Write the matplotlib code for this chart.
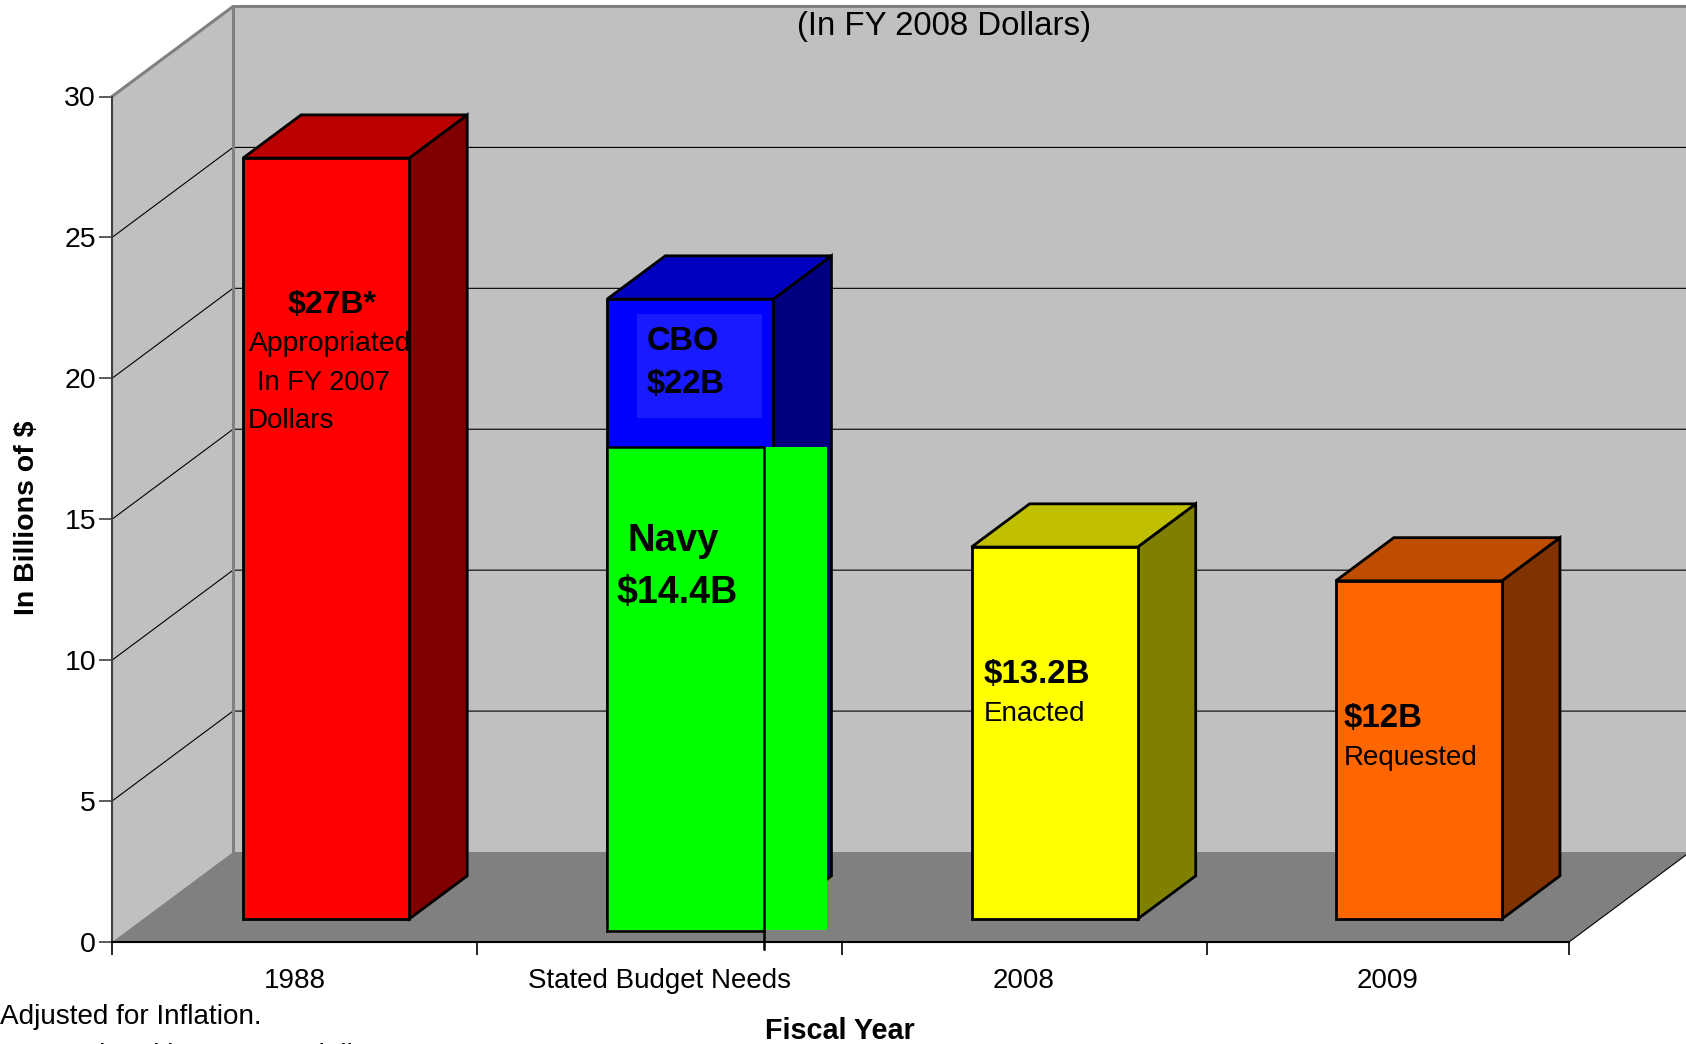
import matplotlib
matplotlib.use('Agg')
import matplotlib.pyplot as plt
from matplotlib.patches import Polygon, Rectangle

plt.rcParams['font.family'] = ['Liberation Sans', 'DejaVu Sans']

# Data
categories = ['1988', 'Stated Budget Needs', '2008', '2009']
values = [27, 22, 13.2, 12]
front_colors = ['#ff0000', '#0000ff', '#ffff00', '#ff6600']
top_colors = ['#bb0000', '#0000c0', '#c0c000', '#bf4d00']
side_colors = ['#800000', '#000080', '#808000', '#803300']
y_ticks = [0, 5, 10, 15, 20, 25, 30]

W, H = 1686, 1044
LEFT, RIGHT, BOTTOM, TOP = 112, 1569, 942, 96.5

# depth of the box in axis units, one full depth of the chart floor
DX = 121 / ((RIGHT - LEFT) / 4)
DY = 90 / ((BOTTOM - TOP) / 30)
BAR_W = 0.456
BAR_SHIFT = 0.003
D0, D1 = 0.255, 0.735


def proj(x, y, d=0.0):
    return (x + d * DX, y + d * DY)


def px(x, y):
    return x / W, 1 - y / H


fig = plt.figure(figsize=(W / 100, H / 100), dpi=100, facecolor='white')
ax = fig.add_axes([LEFT / W, 1 - BOTTOM / H, (RIGHT - LEFT) / W, (BOTTOM - TOP) / H])
ax.set_xlim(-0.5, 3.5)
ax.set_ylim(0, 30)
ax.patch.set_visible(False)

wall = '#c0c0c0'
edge = '#808080'
x0, x1 = -0.5, 3.5

# walls and floor
ax.add_patch(Polygon([proj(x0, 0, 1), proj(x1, 0, 1), proj(x1, 30, 1), proj(x0, 30, 1)],
                     fc=wall, ec='none', clip_on=False, zorder=1))
ax.add_patch(Polygon([proj(x0, 0), proj(x0, 0, 1), proj(x0, 30, 1), proj(x0, 30)],
                     fc=wall, ec='none', clip_on=False, zorder=1))
ax.add_patch(Polygon([proj(x0, 0), proj(x1, 0), proj(x1, 0, 1), proj(x0, 0, 1)],
                     fc='#808080', ec='none', clip_on=False, zorder=1.5))

# gridlines, side wall then back wall
for v in y_ticks[1:-1]:
    ax.plot(*zip(proj(x0, v), proj(x0, v, 1), proj(x1, v, 1)), color='black', lw=0.8,
            clip_on=False, zorder=2)
ax.plot(*zip(proj(x0, 30), proj(x0, 30, 1), proj(x1, 30, 1)), color=edge, lw=2.2,
        clip_on=False, zorder=2.2)
ax.plot(*zip(proj(x0, 0, 1), proj(x0, 30, 1)), color=edge, lw=2.2, clip_on=False, zorder=2.2)
ax.plot(*zip(proj(x1, 0), proj(x1, 0, 1)), color='black', lw=0.8, clip_on=False, zorder=2.2)

# bars
for i, v in enumerate(values):
    l, r = i + BAR_SHIFT - BAR_W / 2, i + BAR_SHIFT + BAR_W / 2
    base = dict(ec='black', lw=2.0, joinstyle='miter', clip_on=False, zorder=3)
    ax.add_patch(Polygon([proj(r, 0, D0), proj(r, 0, D1), proj(r, v, D1), proj(r, v, D0)],
                         fc=side_colors[i], **base))
    ax.add_patch(Polygon([proj(l, v, D0), proj(r, v, D0), proj(r, v, D1), proj(l, v, D1)],
                         fc=top_colors[i], **base))
    ax.add_patch(Polygon([proj(l, 0, D0), proj(r, 0, D0), proj(r, v, D0), proj(l, v, D0)],
                         fc=front_colors[i], **base))

# Navy box pasted over the second bar
scale_x = (x1 - x0) / (RIGHT - LEFT)
scale_y = 30 / (BOTTOM - TOP)
nx = lambda p: x0 + (p - LEFT) * scale_x
ny = lambda p: (BOTTOM - p) * scale_y
ax.add_patch(Rectangle((nx(607), ny(929.5)), nx(827) - nx(607), ny(447) - ny(929.5),
                       fc='#00ff00', ec='none', clip_on=False, zorder=4))
ax.plot([nx(607), nx(607), nx(763.5), nx(763.5)], [ny(931), ny(447), ny(447), ny(949)],
        color='black', lw=1.8, clip_on=False, zorder=4.1, solid_joinstyle='miter')
ax.plot([nx(607), nx(763.5)], [ny(931), ny(931)], color='black', lw=1.8,
        clip_on=False, zorder=4.1)

# light box behind the CBO label
ax.add_patch(Rectangle((nx(637), ny(418)), nx(762) - nx(637), ny(314) - ny(418),
                       fc='#1a1aff', ec='none', clip_on=False, zorder=4))

# axes
for s in ['top', 'right']:
    ax.spines[s].set_visible(False)
ax.spines['left'].set_color('#404040')
ax.spines['left'].set_linewidth(1.5)
ax.spines['bottom'].set_linewidth(1.5)
for s in ['left', 'bottom']:
    ax.spines[s].set_zorder(5)
ax.set_yticks(y_ticks)
ax.set_xticks([-0.5, 0.503, 1.505, 2.505, 3.5])
ax.set_xticklabels([])
ax.tick_params(axis='y', length=9.5, width=1.2, color='#404040', labelsize=20.5, pad=2)
ax.tick_params(axis='x', length=9.5, width=1.2, color='black')
for i, c in enumerate(categories):
    fig.text(*px(LEFT + (i + 0.5) * (RIGHT - LEFT) / 4 + 1, 981), c, fontsize=20,
             ha='center', va='center')

fig.text(*px(27, 518), 'In Billions of $', fontsize=20.5, fontweight='bold',
         rotation=90, ha='center', va='center')
fig.text(*px(840, 1031), 'Fiscal Year', fontsize=20.7, fontweight='bold', ha='center', va='center')
fig.text(*px(944, 26), '(In FY 2008 Dollars)', fontsize=23.8, ha='center', va='center')
fig.text(*px(0, 1017), 'Adjusted for Inflation.', fontsize=20.1, ha='left', va='center')
fig.text(*px(0, 1056), 'Appropriated in FY 2007 dollars', fontsize=20.1, ha='left', va='center')

labels = [
    (288, 305, '$27B*', 23, 'bold'),
    (248.5, 344, 'Appropriated', 20.4, 'normal'),
    (257, 383, 'In FY 2007', 19.6, 'normal'),
    (248, 421, 'Dollars', 20, 'normal'),
    (647, 341, 'CBO', 23.5, 'bold'),
    (647, 385, '$22B', 23.5, 'bold'),
    (627, 541, 'Navy', 27.5, 'bold'),
    (616, 593, '$14.4B', 27, 'bold'),
    (984, 674, '$13.2B', 23.8, 'bold'),
    (984, 714, 'Enacted', 20, 'normal'),
    (1344, 718, '$12B', 23.8, 'bold'),
    (1344, 758, 'Requested', 20, 'normal'),
]
for x, y, s, size, weight in labels:
    fig.text(*px(x, y), s, fontsize=size, fontweight=weight, ha='left', va='center', zorder=6)

fig.savefig('out.png', dpi=100)
